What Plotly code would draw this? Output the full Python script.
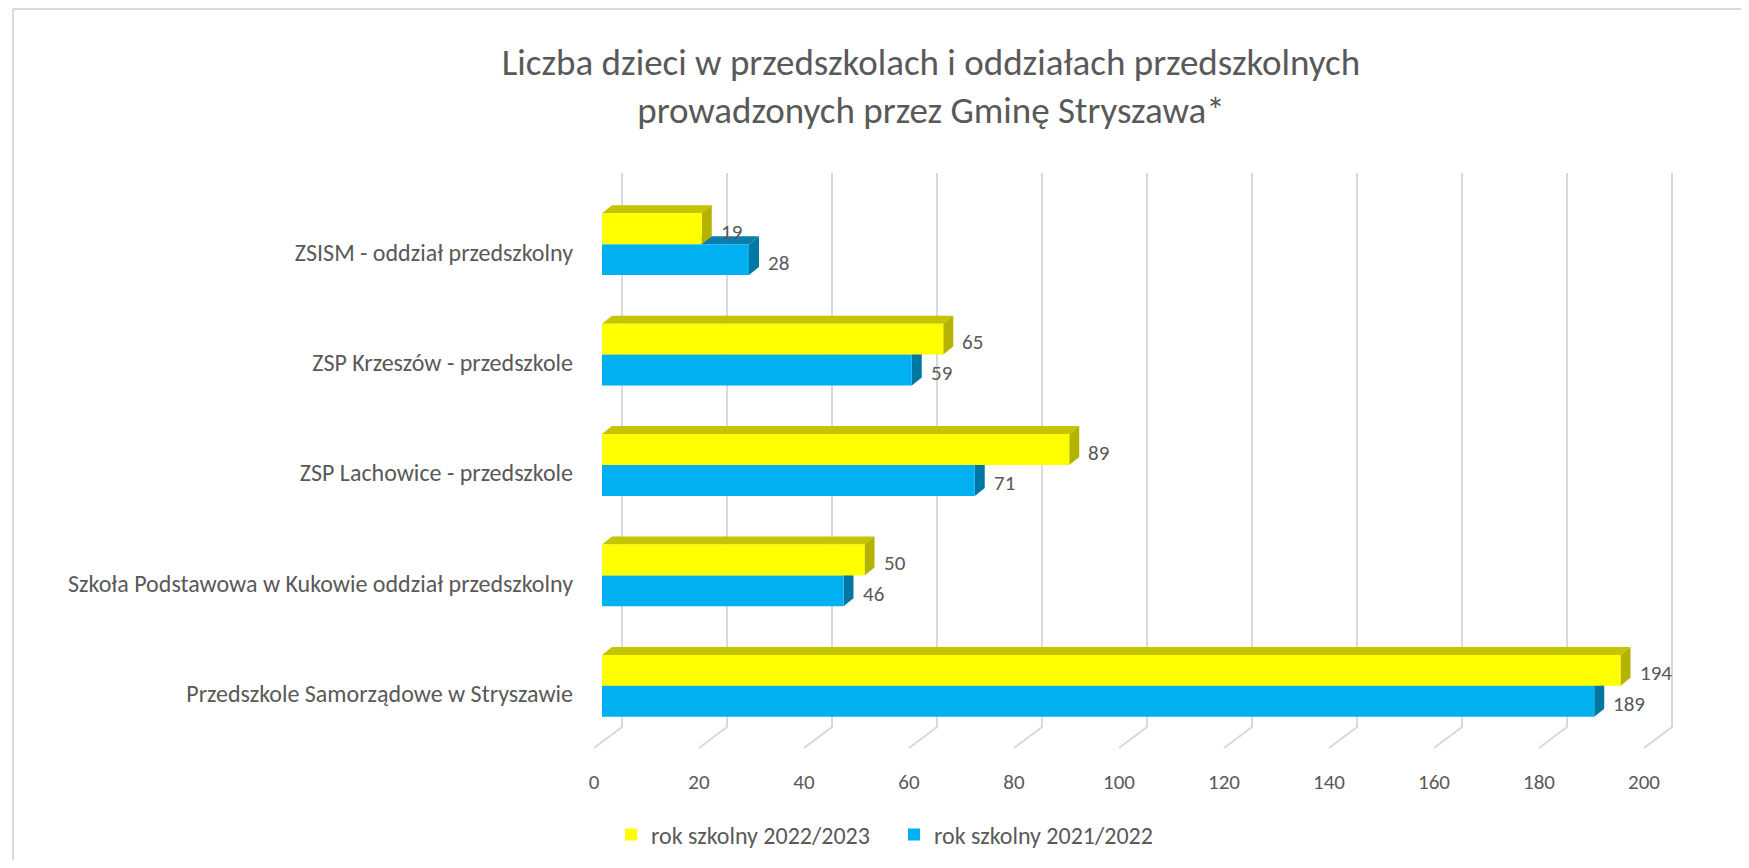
import plotly.graph_objects as go

# ---------------- data ----------------
categories = [
    "Przedszkole Samorządowe w Stryszawie",
    "Szkoła Podstawowa w Kukowie oddział przedszkolny",
    "ZSP Lachowice - przedszkole",
    "ZSP Krzeszów - przedszkole",
    "ZSISM - oddział przedszkolny",
]
series_names = ["rok szkolny 2021/2022", "rok szkolny 2022/2023"]
values_2021 = [189, 46, 71, 59, 28]
values_2022 = [194, 50, 89, 65, 19]
x_ticks = [0, 20, 40, 60, 80, 100, 120, 140, 160, 180, 200]
title_text = "Liczba dzieci w przedszkolach i oddziałach przedszkolnych<br>prowadzonych przez Gminę Stryszawa*"

# ---------------- styles / geometry ----------------
FONT = "Carlito, Lato, sans-serif"
TXT = "#595959"
O = 8                      # default page (body) margin
PAGE_W, PAGE_H = 1749, 868
W, H = PAGE_W - 2 * O, PAGE_H - 2 * O
PLOT_L, PLOT_R, PLOT_T, PLOT_B = 602, 1652, 189, 741   # page pixels
ML, MR, MT, MB = PLOT_L - O, W - (PLOT_R - O), PLOT_T - O, H - (PLOT_B - O)
PW, PH = PLOT_R - PLOT_L, PLOT_B - PLOT_T
XMAX = 200
NCAT = len(categories)
BARGAP = 0.44
BW = (1 - BARGAP) / 2  # width of one bar in category units
DX, DY = 10, 8  # 3D depth in px

front = {"2021": "#00B0F0", "2022": "#FFFF00"}
top_c = {"2021": "#0A7FAE", "2022": "#C6C300"}
side_c = {"2021": "#0077A3", "2022": "#B5B200"}


def px_x(v, dpx=0.0):
    return v / XMAX + dpx / PW


def px_y(c, dpx=0.0):
    return (c + 0.5) / NCAT + dpx / PH


def pix_y(py):
    # page pixel y -> paper y
    return (PLOT_B - py) / PH


def pix_x(px):
    return (px - PLOT_L) / PW


def poly(pts, color):
    d = "M " + " L ".join(f"{x:.5f},{y:.5f}" for x, y in pts) + " Z"
    return dict(type="path", path=d, xref="paper", yref="paper",
                fillcolor=color, line=dict(width=0), layer="below")


shapes = []
# chart border (top & left)
shapes.append(dict(type="line", xref="paper", yref="paper",
                   x0=pix_x(13), x1=pix_x(PAGE_W + 20), y0=pix_y(9), y1=pix_y(9),
                   line=dict(color="#D9D9D9", width=2), layer="below"))
shapes.append(dict(type="line", xref="paper", yref="paper",
                   x0=pix_x(13), x1=pix_x(13), y0=pix_y(9), y1=pix_y(PAGE_H + 20),
                   line=dict(color="#D9D9D9", width=2), layer="below"))

# 3D gridlines (back wall + floor)
for t in x_ticks:
    d = (f"M {px_x(t, 20):.5f},{pix_y(173):.5f} "
         f"L {px_x(t, 20):.5f},{pix_y(727):.5f} "
         f"L {px_x(t, -8):.5f},{pix_y(748):.5f}")
    shapes.append(dict(type="path", path=d, xref="paper", yref="paper",
                       line=dict(color="#D9D9D9", width=2), layer="below"))

# 3D faces of the bars
for key, vals, off in (("2021", values_2021, -BW), ("2022", values_2022, 0.0)):
    for i, v in enumerate(vals):
        y0 = i + off
        y1 = y0 + BW
        shapes.append(poly([(px_x(0), px_y(y1)), (px_x(v), px_y(y1)),
                            (px_x(v, DX), px_y(y1, DY)), (px_x(0, DX), px_y(y1, DY))],
                           top_c[key]))
        shapes.append(poly([(px_x(v), px_y(y0)), (px_x(v), px_y(y1)),
                            (px_x(v, DX), px_y(y1, DY)), (px_x(v, DX), px_y(y0, DY))],
                           side_c[key]))

fig = go.Figure()
fig.add_trace(go.Bar(
    y=categories, x=values_2021, orientation="h", name=series_names[0],
    marker=dict(color=front["2021"], line=dict(width=0)), legendrank=2,
    hoverinfo="x+name",
))
fig.add_trace(go.Bar(
    y=categories, x=values_2022, orientation="h", name=series_names[1],
    marker=dict(color=front["2022"], line=dict(width=0)), legendrank=1,
    hoverinfo="x+name",
))

annotations = []
for vals, off in ((values_2021, -BW / 2), (values_2022, BW / 2)):
    for i, v in enumerate(vals):
        annotations.append(dict(
            x=v, y=px_y(i + off), xref="x", yref="paper", text=str(v),
            showarrow=False, xanchor="left", yanchor="middle",
            xshift=17, yshift=-3, font=dict(family=FONT, size=21, color=TXT)))

fig.update_layout(
    width=W, height=H,
    margin=dict(l=ML, r=MR, t=MT, b=MB, pad=0, autoexpand=False),
    paper_bgcolor="white", plot_bgcolor="rgba(0,0,0,0)",
    barmode="group", bargap=BARGAP, bargroupgap=0,
    title=dict(text=title_text, x=(931 - O) / W, xanchor="center",
               y=1 - (75 - O) / H, yanchor="middle",
               font=dict(family=FONT, size=37, color=TXT)),
    xaxis=dict(range=[0, XMAX], tickvals=x_ticks, showgrid=False, zeroline=False,
               showline=False, ticks="", ticklabelshift=-8, ticklabelstandoff=26,
               tickfont=dict(family=FONT, size=21, color=TXT), fixedrange=True),
    yaxis=dict(categoryorder="array", categoryarray=categories, range=[-0.5, NCAT - 0.5],
               showgrid=False, zeroline=False, showline=False, ticks="",
               ticklabelstandoff=28, ticklabelshift=8,
               tickfont=dict(family=FONT, size=24, color=TXT), fixedrange=True),
    legend=dict(orientation="h", x=pix_x(611), xanchor="left",
                yref="container", y=1 - (835 - O) / H, yanchor="middle",
                font=dict(family=FONT, size=24, color=TXT), traceorder="normal",
                entrywidth=238),
    shapes=shapes,
    annotations=annotations,
    showlegend=True,
)

fig.write_html("out.html")
